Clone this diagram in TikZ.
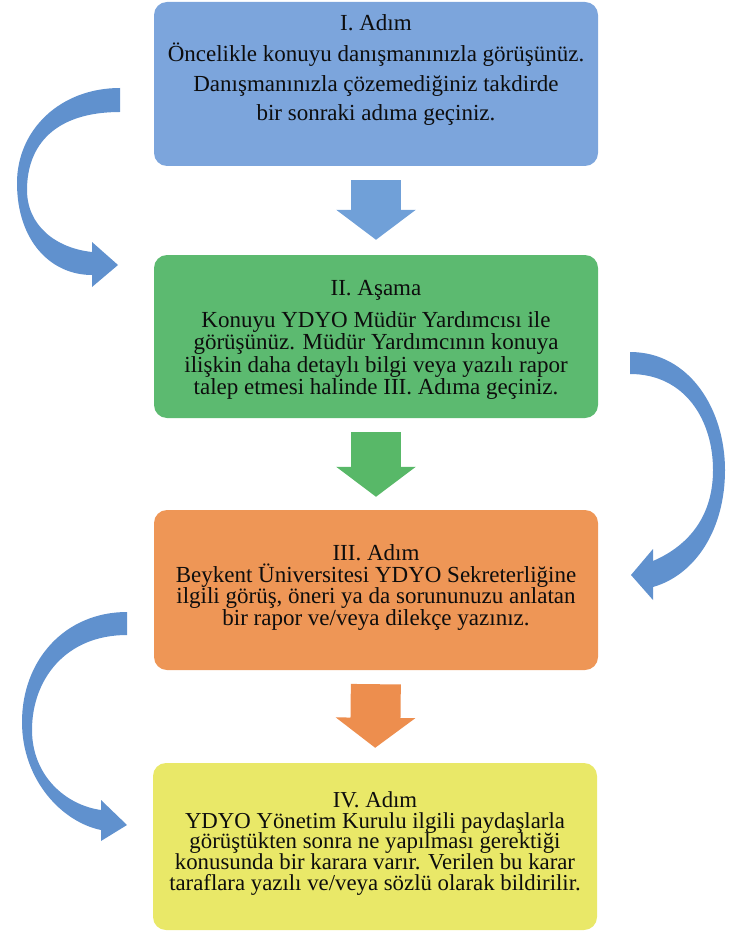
\documentclass[tikz,border=0pt]{standalone}
\usepackage{fontspec}
\setmainfont{Liberation Serif}
\usetikzlibrary{arrows.meta, calc}

\definecolor{adimblue}{RGB}{124,165,220}
\definecolor{adimgreen}{RGB}{92,186,112}
\definecolor{adimorange}{RGB}{238,150,86}
\definecolor{adimyellow}{RGB}{233,232,104}
\definecolor{jumpblue}{RGB}{96,145,206}
\definecolor{downblue}{RGB}{112,160,216}
\definecolor{downgreen}{RGB}{88,184,104}
\definecolor{downorange}{RGB}{237,142,78}

\begin{document}
\begin{tikzpicture}[
  x=1pt, y=-1pt,
  stepbox/.style = {
    rounded corners=13pt,
    minimum width=444pt,
    inner sep=0pt
  },
  steptext/.style = {
    align=center,
    inner sep=0pt,
    text=black!95
  },
  downarrow/.style = {
    line width=50pt,
    -{Triangle[length=30pt,width=78pt]},
    shorten <=14pt,
    shorten >=15pt
  },
  jumparrow/.style = {fill=jumpblue, draw=none}
]
\useasboundingbox (0,0) rectangle (741,933);

% ======================================================
% STEP BOXES
% ======================================================

\node[stepbox, fill=adimblue, minimum height=164pt] (adim1) at (376,84) {};
\node[steptext, font=\fontsize{23}{29.5}\selectfont] (adim1text)
  at ($(adim1.center)+(0,-14)$) {
  I. Adım\\[2pt]
  Öncelikle konuyu danışmanınızla görüşünüz.\\
  Danışmanınızla çözemediğiniz takdirde\\
  bir sonraki adıma geçiniz.
};

\node[stepbox, fill=adimgreen, minimum height=163pt] (adim2) at (376,336.5) {};
\node[steptext, font=\fontsize{23}{22.5}\selectfont] (adim2text)
  at ($(adim2.center)+(0,3.5)$) {
  II. Aşama\\[9pt]
  Konuyu YDYO Müdür Yardımcısı ile\\
  görüşünüz. Müdür Yardımcının konuya\\
  ilişkin daha detaylı bilgi veya yazılı rapor\\
  talep etmesi halinde III. Adıma geçiniz.
};

\node[stepbox, fill=adimorange, minimum height=160pt] (adim3) at (376,590) {};
\node[steptext, font=\fontsize{23}{21.7}\selectfont] (adim3text)
  at ($(adim3.center)+(0,-2.5)$) {
  III. Adım\\
  Beykent Üniversitesi YDYO Sekreterliğine\\
  ilgili görüş, öneri ya da sorununuzu anlatan\\
  bir rapor ve/veya dilekçe yazınız.
};

\node[stepbox, fill=adimyellow, minimum height=167pt] (adim4) at (375,846.5) {};
\node[steptext, font=\fontsize{22.8}{20.8}\selectfont] (adim4text)
  at ($(adim4.center)+(0,-3)$) {
  IV. Adım\\
  YDYO Yönetim Kurulu ilgili paydaşlarla\\
  görüştükten sonra ne yapılması gerektiği\\
  konusunda bir karara varır. Verilen bu karar\\
  taraflara yazılı ve/veya sözlü olarak bildirilir.
};

% ======================================================
% DOWN ARROWS
% ======================================================

\draw[downarrow, draw=downblue] (adim1.south) -- (adim2.north);
\draw[downarrow, draw=downgreen, shorten >=13pt] (adim2.south) -- (adim3.north);
\draw[downarrow, draw=downorange] (adim3.south) -- (adim4.north);

% ======================================================
% CURVED ARROWS (skip a step)
% ======================================================

% left, I -> II
\fill[jumparrow] (120,88) .. controls (60,88) and (17,130) .. (17,183)
  .. controls (17,240) and (50,275) .. (92,275)
  -- (92,287) -- (118,265) -- (92,242) -- (92,252)
  .. controls (55,248) and (27,225) .. (27,190)
  .. controls (27,145) and (55,112) .. (120,112) -- cycle;

% right, II -> III
\fill[jumparrow] (630,352) .. controls (690,352) and (725,410) .. (725,470)
  .. controls (725,530) and (695,575) .. (653,587)
  -- (653,600) -- (631,575) -- (653,549) -- (653,561)
  .. controls (690,545) and (713,515) .. (713,470)
  .. controls (713,420) and (685,374) .. (630,374) -- cycle;

% left, III -> IV
\fill[jumparrow] (127,612) .. controls (65,612) and (22,660) .. (22,722)
  .. controls (22,780) and (62,822) .. (101,830)
  -- (101,841) -- (127,825) -- (101,800) -- (101,810)
  .. controls (65,805) and (32,775) .. (32,730)
  .. controls (32,680) and (65,635) .. (127,635) -- cycle;

\end{tikzpicture}
\end{document}
